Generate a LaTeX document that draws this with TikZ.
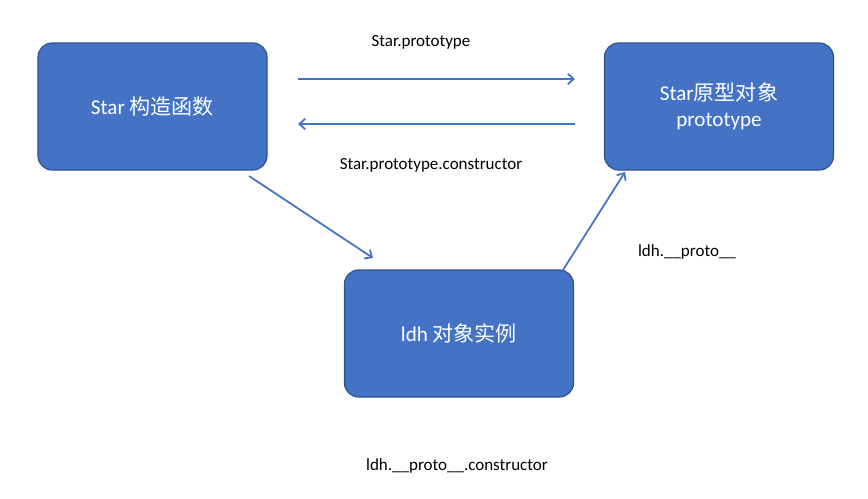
\documentclass[tikz,border=0pt]{standalone}
\usepackage{fontspec}
\setmainfont{Carlito}
\newfontfamily\cjk{Noto Sans CJK SC}
\usetikzlibrary{arrows.meta}
\definecolor{boxfill}{HTML}{4472C4}
\definecolor{boxline}{HTML}{2F528F}
\begin{document}
\begin{tikzpicture}[x=0.03cm,y=-0.03cm,
  box/.style={draw=boxline,line width=1pt,fill=boxfill,rounded corners=12pt,text=white,font=\fontsize{18}{22}\selectfont,align=center,minimum width=229*0.03cm,minimum height=127*0.03cm},
  lbl/.style={font=\fontsize{14.5}{17}\selectfont,text=black},
  arr/.style={draw=boxfill,line width=1.5pt,-{Straight Barb[length=5pt,width=9pt]}}]
\useasboundingbox (0,0) rectangle (868,498);
\node[box] (star) at (152.5,106.5) {Star {\cjk 构造函数}};
\node[box] (proto) at (719,106.5) {Star{\cjk 原型对象}\\prototype};
\node[box] (ldh) at (459,333.5) {ldh {\cjk 对象实例}};
\coordinate (a1) at (298,79); \coordinate (a2) at (575,79);
\coordinate (b1) at (575,124); \coordinate (b2) at (298,124);
\coordinate (c1) at (249,176); \coordinate (c2) at (373,258);
\coordinate (d1) at (563,270); \coordinate (d2) at (625,172);
\draw[arr] (a1) -- (a2);
\draw[arr] (b1) -- (b2);
\draw[arr] (c1) -- (c2);
\draw[arr] (d1) -- (d2);
\node[lbl] (l1) at (421,42) {Star.prototype};
\node[lbl] (l2) at (431,165) {Star.prototype.constructor};
\node[lbl] (l3) at (687,252) {ldh.\_\_proto\_\_};
\node[lbl] (l4) at (457,466) {ldh.\_\_proto\_\_.constructor};
\end{tikzpicture}
\end{document}
